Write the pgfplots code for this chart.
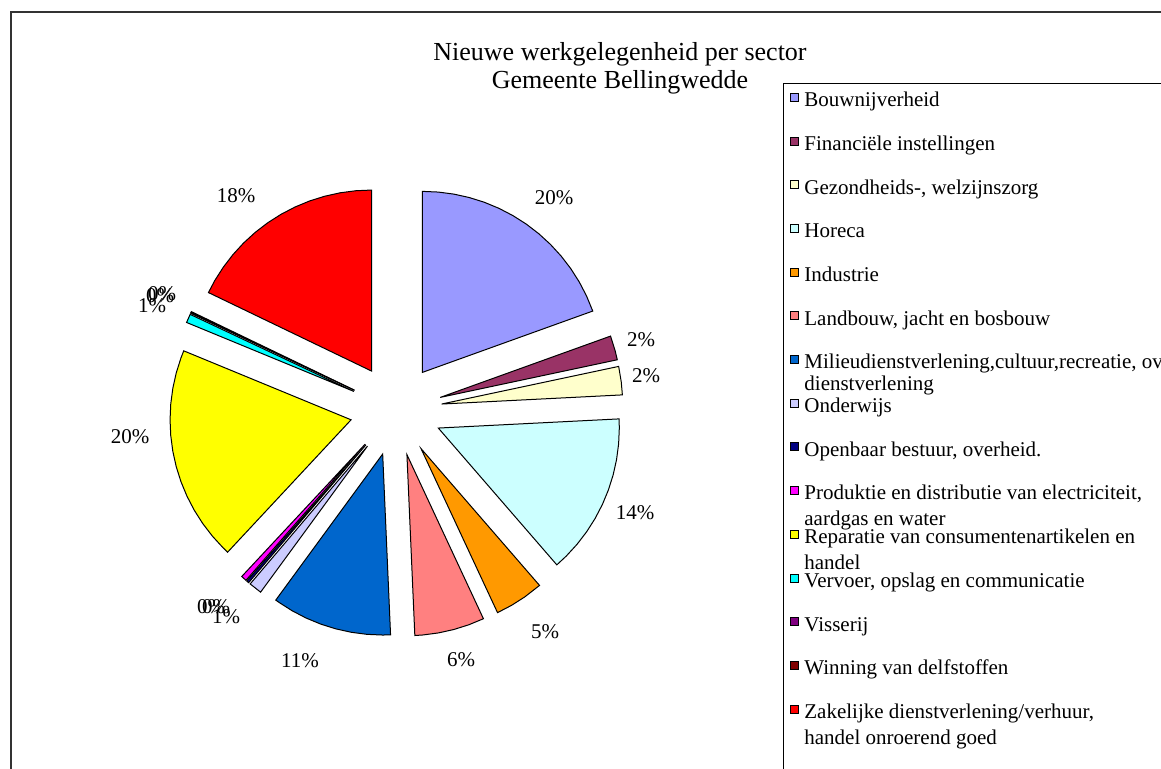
\documentclass[border=0pt]{standalone}
\usepackage{pgfplots}
\pgfplotsset{compat=1.18}
\usepackage{fontspec}
\setmainfont{Liberation Serif}

\definecolor{cBouw}{HTML}{9999FF}
\definecolor{cFin}{HTML}{993366}
\definecolor{cGez}{HTML}{FFFFCC}
\definecolor{cHor}{HTML}{CCFFFF}
\definecolor{cInd}{HTML}{FF9900}
\definecolor{cLand}{HTML}{FF8080}
\definecolor{cMil}{HTML}{0066CC}
\definecolor{cOnd}{HTML}{CCCCFF}
\definecolor{cOpb}{HTML}{000080}
\definecolor{cPro}{HTML}{FF00FF}
\definecolor{cRep}{HTML}{FFFF00}
\definecolor{cVer}{HTML}{00FFFF}
\definecolor{cVis}{HTML}{800080}
\definecolor{cWin}{HTML}{800000}
\definecolor{cZak}{HTML}{FF0000}

\pgfplotsset{
  slice/.style={draw=black, line width=0.5pt, data cs=polar},
}
\newcommand{\lfont}{\fontsize{10.5}{12}\selectfont}

\begin{document}
\begin{tikzpicture}
\useasboundingbox (0,0) rectangle (580.5pt,384pt);
\clip (0,0) rectangle (580.5pt,384pt);
\begin{axis}[
    at={(0,0)}, anchor=south west,
    x=0.5pt, y=0.5pt,
    xmin=-396, xmax=765, ymin=-358, ymax=410,
    hide axis, clip=false,
  ]
  % slices: (angle in degrees, radius); shares of the total:
  % 19.6 2.2 2.5 14.4 4.4 6.3 10.7 1.2 0.2 0.5 19.3 0.8 0.1 0.1 17.9 (%)
  \addplot[slice, fill=cBouw, shift={(54.9:23pt)}] coordinates {(0,0) (90,181) (85,181) (80,181) (75,181) (70,181) (65,181) (60,181) (55,181) (50,181) (45,181) (40,181) (35,181) (30,181) (25,181) (19.8,181)} -- cycle;
  \addplot[slice, fill=cFin, shift={(15.9:23pt)}] coordinates {(0,0) (19.8,181) (15,181) (12,181)} -- cycle;
  \addplot[slice, fill=cGez, shift={(7.45:23pt)}] coordinates {(0,0) (12,181) (7,181) (2.9,181)} -- cycle;
  \addplot[slice, fill=cHor, shift={(-23.1:23pt)}] coordinates {(0,0) (2.9,181) (0,181) (-5,181) (-10,181) (-15,181) (-20,181) (-25,181) (-30,181) (-35,181) (-40,181) (-45,181) (-49.1,181)} -- cycle;
  \addplot[slice, fill=cInd, shift={(-57.05:23pt)}] coordinates {(0,0) (-49.1,181) (-55,181) (-60,181) (-65,181)} -- cycle;
  \addplot[slice, fill=cLand, shift={(-76.25:23pt)}] coordinates {(0,0) (-65,181) (-70,181) (-75,181) (-80,181) (-85,181) (-87.5,181)} -- cycle;
  \addplot[slice, fill=cMil, shift={(-106.85:23pt)}] coordinates {(0,0) (-87.5,181) (-90,181) (-95,181) (-100,181) (-105,181) (-110,181) (-115,181) (-120,181) (-125,181) (-126.2,181)} -- cycle;
  \addplot[slice, fill=cOnd, shift={(-128.3:23pt)}] coordinates {(0,0) (-126.2,181) (-130.4,181)} -- cycle;
  \addplot[slice, fill=cOpb, shift={(-130.8:23pt)}] coordinates {(0,0) (-130.4,181) (-131.2,181)} -- cycle;
  \addplot[slice, fill=cPro, shift={(-132.1:23pt)}] coordinates {(0,0) (-131.2,181) (-133,181)} -- cycle;
  \addplot[slice, fill=cRep, shift={(-167.7:23pt)}] coordinates {(0,0) (-133,181) (-135,181) (-140,181) (-145,181) (-150,181) (-155,181) (-160,181) (-165,181) (-170,181) (-175,181) (-180,181) (-185,181) (-190,181) (-195,181) (-200,181) (-202.4,181)} -- cycle;
  \addplot[slice, fill=cVer, shift={(156.2:23pt)}] coordinates {(0,0) (157.6,181) (154.8,181)} -- cycle;
  \addplot[slice, fill=cVis, shift={(154.68:23pt)}] coordinates {(0,0) (154.8,181) (154.55,181)} -- cycle;
  \addplot[slice, fill=cWin, shift={(154.43:23pt)}] coordinates {(0,0) (154.55,181) (154.3,181)} -- cycle;
  \addplot[slice, fill=cZak, shift={(122.15:23pt)}] coordinates {(0,0) (154.3,181) (150,181) (145,181) (140,181) (135,181) (130,181) (125,181) (120,181) (115,181) (110,181) (105,181) (100,181) (95,181) (90,181)} -- cycle;

  % percentage labels
  \addplot[draw=none, mark=none, nodes near coords, point meta=explicit symbolic,
    nodes near coords align={center},
    every node near coord/.append style={font=\lfont, inner sep=0pt}]
    coordinates {
      (158,212)[20\%] (245,70)[2\%] (250,34)[2\%] (239,-103)[14\%]
      (149,-222)[5\%] (65,-250)[6\%] (-96,-251)[11\%]
      (-170,-207)[1\%] (-185,-197)[0\%] (-180,-197)[0\%]
      (-266,-27)[20\%]
      (-244,104)[1\%] (-236,114)[0\%] (-234,116)[0\%]
      (-160,214)[18\%]
    };
\end{axis}

% title
\node[font=\fontsize{13}{14}\selectfont, anchor=base] at (310pt,354pt) {Nieuwe werkgelegenheid per sector};
\node[font=\fontsize{13}{14}\selectfont, anchor=base] at (310pt,339.85pt) {Gemeente Bellingwedde};

% chart border and legend box
\draw[black!80, line width=1pt] (5.5pt,-10pt) -- (5.5pt,378pt) -- (600pt,378pt);
\draw[black, line width=0.5pt] (391.5pt,-10pt) -- (391.5pt,342.2pt) -- (600pt,342.2pt);

% legend entries
\foreach \col/\txt [count=\k from 0] in {
    cBouw/Bouwnijverheid,
    cFin/Financiële instellingen,
    cGez/{Gezondheids-, welzijnszorg},
    cHor/Horeca,
    cInd/Industrie,
    cLand/{Landbouw, jacht en bosbouw},
    cMil/{Milieudienstverlening,cultuur,recreatie, overige},
    cOnd/Onderwijs,
    cOpb/{Openbaar bestuur, overheid.},
    cPro/{Produktie en distributie van electriciteit,},
    cRep/{Reparatie van consumentenartikelen en},
    cVer/{Vervoer, opslag en communicatie},
    cVis/Visserij,
    cWin/Winning van delfstoffen,
    cZak/{Zakelijke dienstverlening/verhuur,}} {
  \pgfmathsetmacro{\yy}{335.35-21.855*\k}
  \filldraw[fill=\col, draw=black, line width=0.5pt] (395pt,\yy pt-2pt) rectangle (399pt,\yy pt+2pt);
  \node[font=\lfont, anchor=base west, inner sep=0pt] at (402pt,\yy pt-4.65pt) {\txt};
}
\node[font=\lfont, anchor=base west, inner sep=0pt] at (402pt,335.35pt-6*21.855pt-4.65pt-11pt) {dienstverlening};
\node[font=\lfont, anchor=base west, inner sep=0pt] at (402pt,335.35pt-9*21.855pt-4.65pt-13pt) {aardgas en water};
\node[font=\lfont, anchor=base west, inner sep=0pt] at (402pt,335.35pt-10*21.855pt-4.65pt-13pt) {handel};
\node[font=\lfont, anchor=base west, inner sep=0pt] at (402pt,335.35pt-14*21.855pt-4.65pt-13pt) {handel onroerend goed};
\end{tikzpicture}
\end{document}
